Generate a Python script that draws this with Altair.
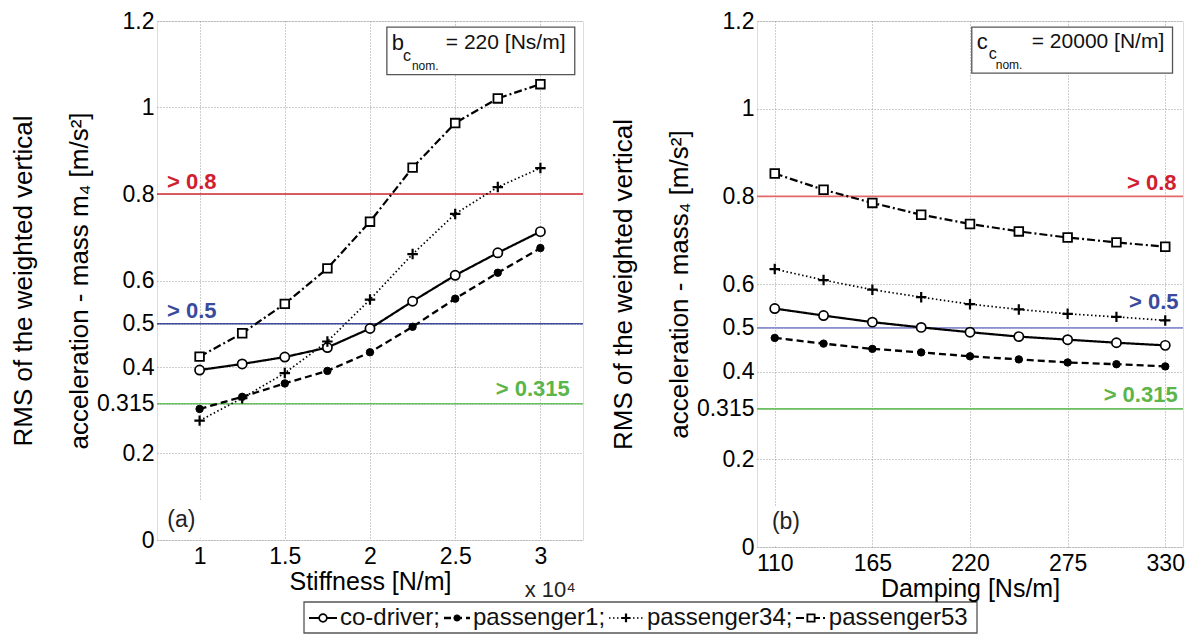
import altair as alt
import pandas as pd

FONT = "Liberation Sans"

# ---------------- data ----------------
series = ["co-driver", "passenger1", "passenger34", "passenger53"]

stiffness = [1.0, 1.25, 1.5, 1.75, 2.0, 2.25, 2.5, 2.75, 3.0]   # x 10^4 N/m
stiff_codriver = [0.393, 0.407, 0.423, 0.445, 0.489, 0.552, 0.612, 0.664, 0.713]
stiff_p1 = [0.303, 0.331, 0.362, 0.391, 0.434, 0.493, 0.558, 0.618, 0.675]
stiff_p34 = [0.276, 0.328, 0.386, 0.459, 0.556, 0.661, 0.754, 0.816, 0.860]
stiff_p53 = [0.424, 0.478, 0.546, 0.628, 0.736, 0.861, 0.964, 1.021, 1.054]

damping = [110, 137.5, 165, 192.5, 220, 247.5, 275, 302.5, 330]   # Ns/m
damp_codriver = [0.544, 0.528, 0.513, 0.501, 0.490, 0.480, 0.473, 0.466, 0.460]
damp_p1 = [0.477, 0.464, 0.452, 0.444, 0.435, 0.428, 0.421, 0.417, 0.412]
damp_p34 = [0.634, 0.609, 0.587, 0.570, 0.554, 0.542, 0.532, 0.525, 0.517]
damp_p53 = [0.852, 0.815, 0.785, 0.758, 0.737, 0.720, 0.706, 0.695, 0.685]

y_ticks = [0, 0.2, 0.315, 0.4, 0.5, 0.6, 0.8, 1.0, 1.2]
stiff_ticks = [1, 1.5, 2, 2.5, 3]
damp_ticks = [110, 165, 220, 275, 330]

thresholds = [0.8, 0.5, 0.315]
threshold_labels = ["> 0.8", "> 0.5", "> 0.315"]

# ---------------- styles ----------------
PLUS = "M-1,0L1,0M0,-1L0,1"
STYLE = {
    "co-driver":   dict(dash=[1, 0], lw=2.2, shape="circle", fill="white", size=85, sw=1.7),
    "passenger1":  dict(dash=[7, 4], lw=2.3, shape="circle", fill="black", size=55, sw=1.0),
    "passenger34": dict(dash=[1.5, 2.5], lw=1.7, shape=PLUS, fill="transparent", size=110, sw=2.2),
    "passenger53": dict(dash=[8, 3, 2, 3], lw=2.2, shape="square", fill="white", size=75, sw=1.8),
}
LINE_COL = {"left": ["#cf2a35", "#3f4c9e", "#6cc262"], "right": ["#e36a6a", "#8a8fd0", "#6cc262"]}
TXT_COL = ["#d0202e", "#3a4a9c", "#5ab54a"]

LABEL_EXPR = "'' + datum.value"


def xenc(domain, ticks, title):
    return alt.X("x:Q",
                 scale=alt.Scale(domain=domain, nice=False, zero=False),
                 axis=alt.Axis(values=ticks, labelExpr=LABEL_EXPR, title=title, grid=True,
                               gridDash=[1, 2], gridColor="#9a9a9a", gridWidth=1,
                               ticks=False, domain=False, labelFontSize=23, labelPadding=5,
                               titleFontSize=25, titlePadding=1, titleFontWeight="normal",
                               labelFlush=False))


def yenc(title):
    return alt.Y("y:Q",
                 scale=alt.Scale(domain=[0, 1.2], nice=False, zero=False),
                 axis=alt.Axis(values=y_ticks, labelExpr=LABEL_EXPR, title=title, grid=True,
                               gridDash=[1, 2], gridColor="#9a9a9a", gridWidth=1,
                               ticks=False, domain=False, labelFontSize=23, labelPadding=3,
                               titleFontSize=26, titleLineHeight=56, titlePadding=4,
                               titleFontWeight="normal", labelFlush=False))


def panel(xs, vals, domain, ticks, xtitle, ytitle, width, height, side, ann):
    X = xenc(domain, ticks, xtitle)
    Y = yenc(ytitle)
    layers = []

    # white background behind panel label (hides grid there)
    bg = pd.DataFrame({"x": [ann["bg"][0]], "x2": [ann["bg"][1]],
                       "y": [ann["bg"][2]], "y2": [ann["bg"][3]]})
    layers.append(alt.Chart(bg).mark_rect(fill="white").encode(
        x=X, x2="x2:Q", y=Y, y2="y2:Q"))

    # thresholds
    thr = pd.DataFrame({"y": thresholds, "c": LINE_COL[side]})
    layers.append(alt.Chart(thr).mark_rule(strokeWidth=1.6).encode(
        y=Y, color=alt.Color("c:N", scale=None)))

    # series
    for name, v in zip(series, vals):
        st = STYLE[name]
        df = pd.DataFrame({"x": xs, "y": v})
        layers.append(alt.Chart(df).mark_line(color="black", strokeWidth=st["lw"],
                                              strokeDash=st["dash"]).encode(x=X, y=Y))
    for name, v in zip(series, vals):
        st = STYLE[name]
        df = pd.DataFrame({"x": xs, "y": v})
        layers.append(alt.Chart(df).mark_point(shape=st["shape"], filled=False, fill=st["fill"],
                                               stroke="black", strokeWidth=st["sw"], size=st["size"],
                                               opacity=1).encode(x=X, y=Y))

    # annotation box
    bx = ann["box"]
    box = pd.DataFrame({"x": [bx[0]], "x2": [bx[1]], "y": [bx[2]], "y2": [bx[3]]})
    layers.append(alt.Chart(box).mark_rect(fill="white", stroke="#555", strokeWidth=1.3).encode(
        x=X, x2="x2:Q", y=Y, y2="y2:Q"))
    for (t, x, y, fs) in ann["texts"]:
        layers.append(alt.Chart(pd.DataFrame({"x": [x], "y": [y], "t": [t]})).mark_text(
            align="left", baseline="middle", fontSize=fs, font=FONT, color="#111").encode(
            x=X, y=Y, text="t:N"))

    # threshold labels
    for (t, x, y, al), col in zip(ann["thr"], TXT_COL):
        layers.append(alt.Chart(pd.DataFrame({"x": [x], "y": [y], "t": [t]})).mark_text(
            align=al, baseline="middle", fontSize=22, fontWeight="bold", font=FONT, color=col).encode(
            x=X, y=Y, text="t:N"))

    # panel label
    t, x, y = ann["label"]
    layers.append(alt.Chart(pd.DataFrame({"x": [x], "y": [y], "t": [t]})).mark_text(
        align="left", baseline="middle", fontSize=23, font=FONT, color="#222").encode(
        x=X, y=Y, text="t:N"))

    for extra in ann.get("extra", []):
        layers.append(extra(X, Y))

    return alt.layer(*layers).properties(width=width, height=height)


# ---------------- legend (drawn in left panel's coordinates, below the plot) ----------------
leg_box = [1.6127, 5.5622, -0.1434, -0.2150]
leg_y = -0.1803
leg_icon = [(1.642, 1.8063, 1.7242), (2.4343, 2.5869, 2.5106),
            (3.4026, 3.608, 3.5024), (4.50, 4.676, 4.588)]
leg_text_x = [1.8239, 2.6045, 3.6256, 4.6925]
leg_text = ["co-driver;", "passenger1;", "passenger34;", "passenger53"]


def legend_layers(X, Y):
    ls = []
    box = pd.DataFrame({"x": [leg_box[0]], "x2": [leg_box[1]], "y": [leg_box[2]], "y2": [leg_box[3]]})
    ls.append(alt.Chart(box).mark_rect(fill="white", stroke="#555", strokeWidth=1.3).encode(
        x=X, x2="x2:Q", y=Y, y2="y2:Q"))
    for name, (a, b, m), tx, t in zip(series, leg_icon, leg_text_x, leg_text):
        st = STYLE[name]
        ls.append(alt.Chart(pd.DataFrame({"x": [a, b], "y": [leg_y, leg_y]})).mark_line(
            color="black", strokeWidth=st["lw"], strokeDash=st["dash"]).encode(x=X, y=Y))
        ls.append(alt.Chart(pd.DataFrame({"x": [m], "y": [leg_y]})).mark_point(
            shape=st["shape"], filled=False, fill=st["fill"], stroke="black",
            strokeWidth=st["sw"], size=st["size"] * 0.7, opacity=1).encode(x=X, y=Y))
        ls.append(alt.Chart(pd.DataFrame({"x": [tx], "y": [leg_y], "t": [t]})).mark_text(
            align="left", baseline="middle", fontSize=24, font=FONT, color="#111").encode(
            x=X, y=Y, text="t:N"))
    return alt.layer(*ls)


def exponent_layer(X, Y):
    return alt.Chart(pd.DataFrame({"x": [2.908], "y": [-0.116], "t": ["x 10⁴"]})).mark_text(
        align="left", baseline="middle", fontSize=22, font=FONT, color="#222").encode(
        x=X, y=Y, text="t:N")


left_ann = {
    "bg": [0.762, 1.04, 0.004, 0.092],
    "box": [2.099, 3.2016, 1.186, 1.076],
    "texts": [("b", 2.128, 1.149, 22), ("c", 2.193, 1.120, 16), ("nom.", 2.246, 1.097, 12),
              ("= 220 [Ns/m]", 2.445, 1.149, 21)],
    "thr": [("> 0.8", 0.809, 0.828, "left"), ("> 0.5", 0.809, 0.529, "left"),
            ("> 0.315", 3.172, 0.349, "right")],
    "label": ("(a)", 0.81, 0.046),
    "extra": [exponent_layer, legend_layers],
}
right_ann = {
    "bg": [101.2, 113.0, 0.004, 0.092],
    "box": [221.0, 334.1, 1.186, 1.081],
    "texts": [("c", 223.8, 1.152, 22), ("c", 230.6, 1.124, 16), ("nom.", 234.5, 1.099, 12),
              ("= 20000 [N/m]", 254.8, 1.152, 21)],
    "thr": [("> 0.8", 336.4, 0.831, "right"), ("> 0.5", 337.5, 0.560, "right"),
            ("> 0.315", 337.0, 0.346, "right")],
    "label": ("(b)", 108.4, 0.057),
}

left = panel(stiffness, [stiff_codriver, stiff_p1, stiff_p34, stiff_p53], [0.75, 3.25], stiff_ticks,
             "Stiffness [N/m]",
             ["RMS of the weighted vertical", "acceleration - mass m₄ [m/s²]"],
             426, 519, "left", left_ann)
right = panel(damping, [damp_codriver, damp_p1, damp_p34, damp_p53], [100, 340], damp_ticks,
              "Damping [Ns/m]",
              ["RMS of the weighted vertical", "acceleration - mass₄ [m/s²]"],
              426, 526, "right", right_ann)

chart = alt.hconcat(left, right, spacing=174, bounds="flush").properties(
    padding={"left": 9, "top": 9, "right": 2, "bottom": 2}
).configure_view(
    stroke="#8c8c8c", strokeWidth=1.2
).configure_axis(
    labelFont=FONT, titleFont=FONT, labelColor="#222", titleColor="#111"
).configure(background="white")

chart.save("out.html", embed_options={"renderer": "svg", "actions": False})
